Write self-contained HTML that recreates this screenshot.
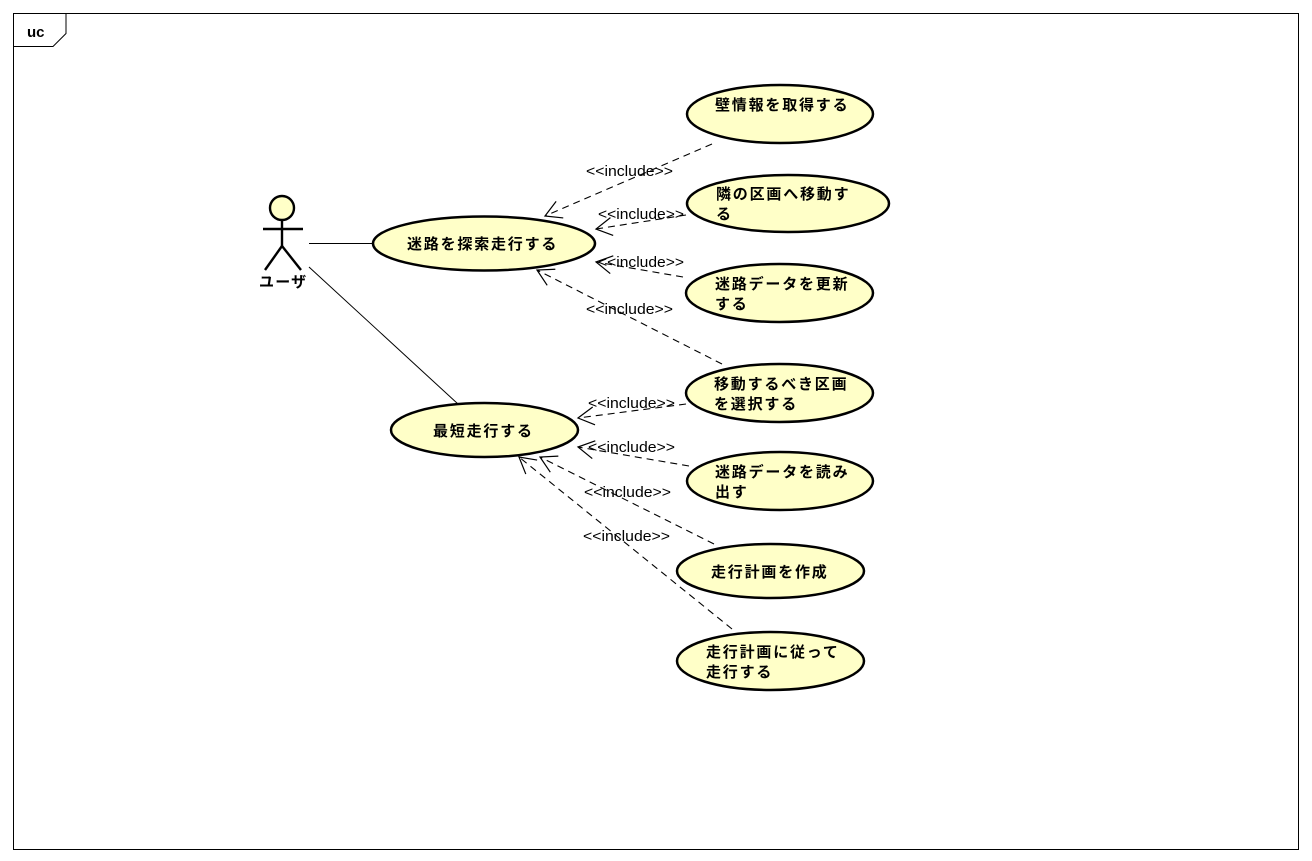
<!DOCTYPE html>
<html><head><meta charset="utf-8">
<style>
html,body{margin:0;padding:0;background:#fff;}
svg{display:block;}
.jp{font-family:"Liberation Sans","Noto Sans CJK JP",sans-serif;font-weight:bold;font-size:15px;letter-spacing:1.8px;fill:#000;}
.inc{font-family:"Liberation Sans",sans-serif;font-size:15px;fill:#000;}
.uc{stroke:#000;stroke-width:2.5;fill:#ffffc8;}
.dash{stroke:#000;stroke-width:1.1;stroke-dasharray:7 5;fill:none;}
</style></head>
<body>
<svg width="1312" height="861" viewBox="0 0 1312 861" xmlns="http://www.w3.org/2000/svg">
<defs>
<marker id="ah" markerUnits="userSpaceOnUse" markerWidth="40" markerHeight="40" refX="0" refY="0" viewBox="-20 -20 40 40" orient="auto">
<path d="M-16,-9 L0,0 L-16,9" fill="none" stroke="#000" stroke-width="1.2" stroke-dasharray="none"/>
</marker>
</defs>
<rect x="0" y="0" width="1312" height="861" fill="#fff"/>
<!-- frame -->
<rect x="13.5" y="13.5" width="1285" height="836" fill="none" stroke="#000" stroke-width="1"/>
<path d="M13.5,46.5 L53,46.5 L66,33.5 L66,13.5" fill="none" stroke="#000" stroke-width="1"/>
<text x="27" y="37" font-family="Liberation Sans, sans-serif" font-weight="bold" font-size="15" fill="#000">uc</text>

<!-- actor -->
<circle cx="282" cy="208" r="12" fill="#ffffc8" stroke="#000" stroke-width="2.4"/>
<line x1="282" y1="220" x2="282" y2="247" stroke="#000" stroke-width="2.4"/>
<line x1="263" y1="229" x2="303" y2="229" stroke="#000" stroke-width="2.4"/>
<line x1="282" y1="246" x2="265" y2="270" stroke="#000" stroke-width="2.4"/>
<line x1="282" y1="246" x2="301" y2="270" stroke="#000" stroke-width="2.4"/>
<text x="259" y="287" class="jp" style="letter-spacing:1.2px">ユーザ</text>

<!-- actor associations -->
<line x1="309" y1="243.5" x2="373" y2="243.5" stroke="#000" stroke-width="1"/>
<line x1="309" y1="267" x2="458" y2="404" stroke="#000" stroke-width="1"/>

<!-- dashed includes -->
<line class="dash" x1="712" y1="144" x2="545" y2="216" marker-end="url(#ah)"/>
<line class="dash" x1="686" y1="215" x2="596" y2="229" marker-end="url(#ah)"/>
<line class="dash" x1="683" y1="277" x2="596" y2="262" marker-end="url(#ah)"/>
<line class="dash" x1="722" y1="364" x2="537" y2="270" marker-end="url(#ah)"/>
<line class="dash" x1="686" y1="404" x2="578" y2="418" marker-end="url(#ah)"/>
<line class="dash" x1="689" y1="466" x2="578" y2="447" marker-end="url(#ah)"/>
<line class="dash" x1="714" y1="544" x2="540" y2="457" marker-end="url(#ah)"/>
<line class="dash" x1="732" y1="629" x2="519" y2="457" marker-end="url(#ah)"/>

<!-- include labels -->
<text class="inc" x="586" y="176" textLength="87" lengthAdjust="spacingAndGlyphs">&lt;&lt;include&gt;&gt;</text>
<text class="inc" x="598" y="219" textLength="86" lengthAdjust="spacingAndGlyphs">&lt;&lt;include&gt;&gt;</text>
<text class="inc" x="598" y="267" textLength="86" lengthAdjust="spacingAndGlyphs">&lt;&lt;include&gt;&gt;</text>
<text class="inc" x="586" y="314" textLength="87" lengthAdjust="spacingAndGlyphs">&lt;&lt;include&gt;&gt;</text>
<text class="inc" x="588" y="408" textLength="87" lengthAdjust="spacingAndGlyphs">&lt;&lt;include&gt;&gt;</text>
<text class="inc" x="588" y="452" textLength="87" lengthAdjust="spacingAndGlyphs">&lt;&lt;include&gt;&gt;</text>
<text class="inc" x="584" y="497" textLength="87" lengthAdjust="spacingAndGlyphs">&lt;&lt;include&gt;&gt;</text>
<text class="inc" x="583" y="541" textLength="87" lengthAdjust="spacingAndGlyphs">&lt;&lt;include&gt;&gt;</text>

<!-- use cases -->
<ellipse class="uc" cx="484" cy="243.5" rx="111" ry="27"/>
<text class="jp" x="407" y="249">迷路を探索走行する</text>

<ellipse class="uc" cx="484.5" cy="430" rx="93.5" ry="27"/>
<text class="jp" x="433" y="436">最短走行する</text>

<ellipse class="uc" cx="780" cy="114" rx="93" ry="29"/>
<text class="jp" x="715" y="110">壁情報を取得する</text>

<ellipse class="uc" cx="788" cy="203.5" rx="101" ry="28.5"/>
<text class="jp" x="716" y="199">隣の区画へ移動す</text>
<text class="jp" x="716" y="219">る</text>

<ellipse class="uc" cx="779.5" cy="293" rx="93.5" ry="29"/>
<text class="jp" x="715" y="289">迷路データを更新</text>
<text class="jp" x="715" y="309">する</text>

<ellipse class="uc" cx="779.5" cy="393" rx="93.5" ry="29"/>
<text class="jp" x="714" y="389">移動するべき区画</text>
<text class="jp" x="714" y="409">を選択する</text>

<ellipse class="uc" cx="780" cy="481" rx="93" ry="29"/>
<text class="jp" x="715" y="477">迷路データを読み</text>
<text class="jp" x="715" y="497">出す</text>

<ellipse class="uc" cx="770.5" cy="571" rx="93.5" ry="27"/>
<text class="jp" x="711" y="577">走行計画を作成</text>

<ellipse class="uc" cx="770.5" cy="661" rx="93.5" ry="29"/>
<text class="jp" x="706" y="657">走行計画に従って</text>
<text class="jp" x="706" y="677">走行する</text>
</svg>
</body></html>
